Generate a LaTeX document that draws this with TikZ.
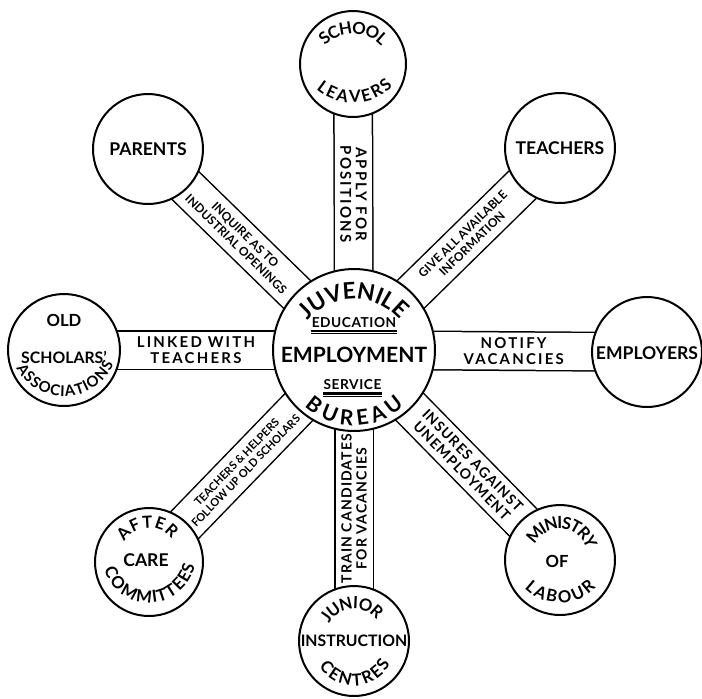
\documentclass[tikz,border=0pt]{standalone}
\usepackage{fontspec}
\setmainfont{Lato}
\usetikzlibrary{calc,backgrounds,decorations.text}

\newcommand{\capsfont}{\fontsize{10}{12}\selectfont\bfseries}
\newcommand{\ringfont}{\fontsize{9.5}{11}\selectfont\bfseries}
\newcommand{\hubfont}{\fontsize{13}{15}\selectfont\bfseries}
\newcommand{\bureaufont}{\fontsize{12}{14}\selectfont\bfseries}
\newcommand{\midfont}{\fontsize{12}{14}\selectfont\bfseries}
\newcommand{\minifont}{\fontsize{7.8}{9}\selectfont\bfseries\addfontfeature{LetterSpace=4}}
\newcommand{\widetag}{\fontsize{8.5}{8.8}\selectfont\bfseries\addfontfeature{LetterSpace=15}}
\newcommand{\plaintag}{\fontsize{8}{8.6}\selectfont\bfseries\addfontfeature{LetterSpace=8}}
\newcommand{\smalltag}{\fontsize{6.8}{7.6}\selectfont\bfseries\addfontfeature{LetterSpace=1}}
\newcommand{\tinytag}{\fontsize{6.3}{7.2}\selectfont\bfseries}

\begin{document}
\begin{tikzpicture}[x=0.02cm, y=0.02cm]
\tikzset{
  spot/.style={circle, draw, line width=0.04cm, fill=white, inner sep=0pt},
  band/.style={line width=0.03cm, double, double distance=0.74cm},
  tag/.style={inner sep=0pt, align=center},
  word/.style={inner sep=0pt, font=\capsfont},
  arcword/.style={decorate, decoration={text along path, text align=fit to path, raise=-3.3pt, text={#1}}},
  rule/.style={line width=0.05cm},
  hairline/.style={line width=0.02cm}
}
\useasboundingbox (-354,-348) rectangle (348,350);

\node[spot, minimum size=3.24cm] (hub) at (0,0) {};
\node[spot, minimum size=2.12cm] (leavers) at (-1,286) {};
\node[spot, minimum size=2.2cm] (teachers) at (206,202) {};
\node[spot, minimum size=2.2cm] (employers) at (293,-2) {};
\node[spot, minimum size=2.2cm] (ministry) at (206,-210) {};
\node[spot, minimum size=2.2cm] (junior) at (0,-291) {};
\node[spot, minimum size=2.16cm] (aftercare) at (-205,-212) {};
\node[spot, minimum size=2.24cm] (scholars) at (-290,0) {};
\node[spot, minimum size=2.2cm] (parents) at (-206,201) {};

\begin{pgfonlayer}{background}
\draw[band] (hub.center) -- node[tag, pos=.545, rotate=-90, font=\widetag] (apply) {APPLY FOR\\POSITIONS} (leavers.center);
\draw[band] (hub.center) -- node[tag, pos=.55, rotate=44.4, font=\smalltag] (give) {GIVE ALL AVAILABLE\\INFORMATION} (teachers.center);
\draw[band] (hub.center) -- node[tag, pos=.545, font=\widetag] (notify) {NOTIFY\\VACANCIES} (employers.center);
\draw[band] (hub.center) -- node[tag, pos=.55, rotate=-45.5, font=\plaintag] (insures) {INSURES AGAINST\\UNEMPLOYMENT} (ministry.center);
\draw[band] (hub.center) -- node[tag, pos=.545, rotate=90, font=\plaintag] (train) {TRAIN CANDIDATES\\FOR VACANCIES} (junior.center);
\draw[band] (hub.center) -- node[tag, pos=.55, rotate=46, font=\tinytag] (helpers) {TEACHERS \& HELPERS\\FOLLOW UP OLD SCHOLARS} (aftercare.center);
\draw[band] (hub.center) -- node[tag, pos=.545, font=\widetag] (linked) {LINKED WITH\\TEACHERS} (scholars.center);
\draw[band] (hub.center) -- node[tag, pos=.55, rotate=-44.3, font=\smalltag] (inquire) {INQUIRE AS TO\\INDUSTRIAL OPENINGS} (parents.center);
\end{pgfonlayer}

\node[word, font=\midfont] (employment) at (0,-5) {EMPLOYMENT};
\node[word, font=\minifont] (education) at (0,27.5) {EDUCATION};
\node[word, font=\minifont] (service) at (-1.5,-35) {SERVICE};
\draw[rule] ([yshift=-1.8pt]education.south west) -- ([yshift=-1.8pt]education.south east);
\draw[hairline] ([yshift=-3.2pt]education.south west) -- ([yshift=-3.2pt]education.south east);
\draw[rule] ([yshift=-1.8pt]service.south west) -- ([yshift=-1.8pt]service.south east);
\draw[hairline] ([yshift=-3.2pt]service.south west) -- ([yshift=-3.2pt]service.south east);
\path[arcword={|\hubfont|JUVENILE}, decoration={raise=-4.7pt}] ($(hub.center)+(0,-10)+(139:69)$) arc[start angle=139, end angle=42, radius=69];
\path[arcword={|\bureaufont|BUREAU}, decoration={raise=-4.3pt}] ($(hub.center)+(0,-4)+(226:64)$) arc[start angle=226, end angle=315, radius=64];

\path[arcword={|\ringfont|SCHOOL}] ($(leavers.center)+(0,-8)+(136:44)$) arc[start angle=136, end angle=43, radius=44];
\path[arcword={|\ringfont|LEAVERS}] ($(leavers.center)+(0,18)+(229:51)$) arc[start angle=229, end angle=315, radius=51];

\node[word] (teacherstext) at (teachers) {TEACHERS};
\node[word] (employerstext) at ($(employers)+(0,-1)$) {EMPLOYERS};

\path[arcword={|\ringfont|MINISTRY}] ($(ministry.center)+(0,4)+(153:33)$) arc[start angle=153, end angle=17, radius=33];
\node[word, font=\ringfont] (of) at ($(ministry)+(-3,-1)$) {OF};
\path[arcword={|\ringfont|LABOUR}] ($(ministry.center)+(0,7)+(224:44)$) arc[start angle=224, end angle=317, radius=44];

\path[arcword={|\ringfont|JUNIOR}] ($(junior.center)+(0,4)+(151:34)$) arc[start angle=151, end angle=39, radius=34];
\node[word, font=\fontsize{9}{11}\selectfont\bfseries] (instruction) at (junior) {INSTRUCTION};
\path[arcword={|\ringfont|CENTRES}] ($(junior.center)+(0,-4)+(210:35)$) arc[start angle=210, end angle=333, radius=35];

\path[arcword={|\ringfont|AFTER}] ($(aftercare.center)+(0,6)+(148:34)$) arc[start angle=148, end angle=39, radius=34];
\node[word] (care) at ($(aftercare)+(-3,2)$) {CARE};
\path[arcword={|\ringfont|COMMITTEES}] ($(aftercare.center)+(0,6)+(196:41)$) arc[start angle=196, end angle=348, radius=41];

\node[word, font=\ringfont] (old) at ($(scholars)+(0,30)$) {OLD};
\node[word, font=\fontsize{9}{11}\selectfont\bfseries] (scholarstext) at ($(scholars)+(0,-7.5)$) {SCHOLARS'};
\path[arcword={|\fontsize{8.5}{10}\selectfont\bfseries|ASSOCIATIONS}] ($(scholars.center)+(0,7.8)+(208:48.5)$) arc[start angle=208, end angle=332, radius=48.5];

\node[word] (parentstext) at (parents) {PARENTS};
\end{tikzpicture}
\end{document}
